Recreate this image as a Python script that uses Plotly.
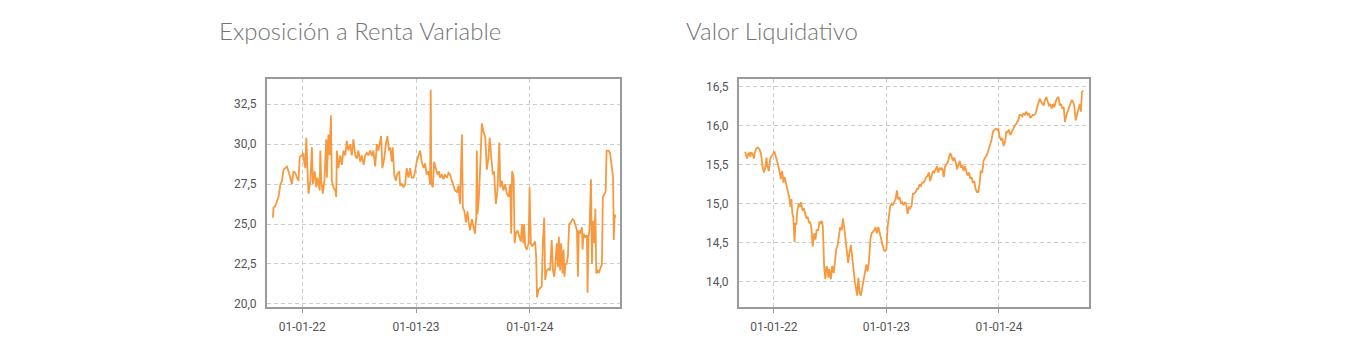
import plotly.graph_objects as go

# ---------------- data: Exposición a Renta Variable ----------------
exp_dates = [
    "2021-09-29", "2021-10-01", "2021-10-06", "2021-10-12", "2021-10-17", "2021-10-23", "2021-10-28",
    "2021-11-02", "2021-11-07", "2021-11-13", "2021-11-18", "2021-11-23", "2021-11-29", "2021-12-04",
    "2021-12-10", "2021-12-15", "2021-12-20", "2021-12-24", "2021-12-31", "2022-01-05", "2022-01-07",
    "2022-01-11", "2022-01-14", "2022-01-18", "2022-01-21", "2022-01-27", "2022-02-01", "2022-02-04",
    "2022-02-10", "2022-02-15", "2022-02-19", "2022-02-26", "2022-02-28", "2022-03-03", "2022-03-08",
    "2022-03-13", "2022-03-19", "2022-03-21", "2022-03-26", "2022-03-30", "2022-04-03", "2022-04-06",
    "2022-04-11", "2022-04-17", "2022-04-20", "2022-04-22", "2022-04-27", "2022-05-03", "2022-05-08",
    "2022-05-13", "2022-05-19", "2022-05-24", "2022-05-29", "2022-06-04", "2022-06-09", "2022-06-14",
    "2022-06-20", "2022-06-25", "2022-06-30", "2022-07-06", "2022-07-11", "2022-07-17", "2022-07-22",
    "2022-07-27", "2022-08-01", "2022-08-07", "2022-08-12", "2022-08-17", "2022-08-23", "2022-08-28",
    "2022-09-02", "2022-09-08", "2022-09-11", "2022-09-15", "2022-09-21", "2022-09-26", "2022-10-01",
    "2022-10-06", "2022-10-10", "2022-10-15", "2022-10-18", "2022-10-23", "2022-10-28", "2022-11-01",
    "2022-11-08", "2022-11-11", "2022-11-16", "2022-11-22", "2022-11-27", "2022-12-02", "2022-12-08",
    "2022-12-13", "2022-12-18", "2022-12-24", "2022-12-29", "2023-01-03", "2023-01-09", "2023-01-14",
    "2023-01-19", "2023-01-25", "2023-01-30", "2023-02-04", "2023-02-10", "2023-02-15", "2023-02-17",
    "2023-02-19", "2023-02-24", "2023-02-28", "2023-03-05", "2023-03-11", "2023-03-16", "2023-03-19",
    "2023-03-25", "2023-03-30", "2023-04-03", "2023-04-10", "2023-04-15", "2023-04-20", "2023-04-26",
    "2023-05-01", "2023-05-06", "2023-05-12", "2023-05-17", "2023-05-22", "2023-05-28", "2023-05-31",
    "2023-06-05", "2023-06-10", "2023-06-15", "2023-06-18", "2023-06-23", "2023-06-29", "2023-07-04",
    "2023-07-09", "2023-07-13", "2023-07-15", "2023-07-17", "2023-07-21", "2023-07-26", "2023-07-31",
    "2023-08-05", "2023-08-11", "2023-08-16", "2023-08-21", "2023-08-25", "2023-08-29", "2023-09-04",
    "2023-09-08", "2023-09-14", "2023-09-19", "2023-09-25", "2023-09-28", "2023-10-03", "2023-10-08",
    "2023-10-14", "2023-10-19", "2023-10-25", "2023-10-30", "2023-11-02", "2023-11-05", "2023-11-10",
    "2023-11-13", "2023-11-17", "2023-11-22", "2023-11-28", "2023-12-03", "2023-12-07", "2023-12-11",
    "2023-12-14", "2023-12-17", "2023-12-22", "2023-12-28", "2023-12-31", "2024-01-04", "2024-01-08",
    "2024-01-13", "2024-01-18", "2024-01-21", "2024-01-24", "2024-01-29", "2024-02-03", "2024-02-08",
    "2024-02-12", "2024-02-16", "2024-02-19", "2024-02-24", "2024-03-01", "2024-03-06", "2024-03-11",
    "2024-03-15", "2024-03-19", "2024-03-22", "2024-03-27", "2024-03-31", "2024-04-03", "2024-04-07",
    "2024-04-10", "2024-04-15", "2024-04-18", "2024-04-21", "2024-04-24", "2024-04-28", "2024-05-02",
    "2024-05-06", "2024-05-11", "2024-05-17", "2024-05-22", "2024-05-27", "2024-05-31", "2024-06-03",
    "2024-06-06", "2024-06-10", "2024-06-16", "2024-06-18", "2024-06-21", "2024-06-26", "2024-07-02",
    "2024-07-04", "2024-07-07", "2024-07-10", "2024-07-15", "2024-07-18", "2024-07-21", "2024-07-25",
    "2024-07-29", "2024-08-01", "2024-08-05", "2024-08-10", "2024-08-16", "2024-08-19", "2024-08-22",
    "2024-08-26", "2024-08-31", "2024-09-03", "2024-09-09", "2024-09-14", "2024-09-18", "2024-09-21",
    "2024-09-24", "2024-09-26", "2024-09-29", "2024-10-02",
]
exp_values = [
    25.4, 26.05, 26.1, 26.4, 26.7, 27.5, 27.7,
    28.4, 28.5, 28.6, 28.3, 27.9, 27.5, 28.3,
    28.2, 27.9, 27.7, 29.2, 29.3, 29.45, 28.9,
    28.5, 30.4, 28.3, 26.9, 27.7, 29.8, 27.5,
    28.3, 27.3, 27.9, 27.1, 29.6, 27.7, 26.9,
    27.7, 30.3, 27.9, 30.6, 29.3, 31.8, 27.7,
    27.3, 27.1, 26.7, 29.6, 28.5, 29.3, 28.7,
    29.6, 29.3, 30.2, 29.6, 30.0, 29.3, 30.3,
    29.3, 29.1, 29.6, 28.9, 29.3, 28.7, 29.3,
    29.45, 29.3, 29.6, 29.25, 29.6, 28.6, 30.0,
    29.6, 30.2, 30.5, 28.5, 29.1, 30.0, 30.5,
    29.6, 29.8, 28.9, 29.8, 28.1, 27.7, 28.1,
    28.3, 27.4, 27.5, 27.3, 27.5, 28.5, 27.9,
    28.5, 27.9, 27.9, 28.3, 28.9, 29.3, 29.6,
    28.9, 28.5, 28.8, 28.1, 28.3, 27.5, 33.4,
    27.5, 27.3, 28.9, 28.5, 28.1, 28.3, 27.9,
    28.1, 27.8, 28.1, 27.9, 28.2, 28.1, 27.7,
    27.4, 27.1, 27.0, 27.4, 26.25, 30.6, 26.05,
    25.8, 25.1, 25.8, 25.2, 24.6, 25.3, 24.8,
    24.4, 25.4, 29.6, 25.6, 26.5, 28.7, 31.3,
    30.8, 30.4, 28.4, 29.1, 30.4, 29.3, 28.1,
    28.3, 26.25, 27.1, 30.1, 27.3, 27.7, 27.1,
    27.5, 26.9, 26.7, 27.5, 24.4, 28.3, 27.9,
    23.8, 24.4, 24.6, 24.2, 23.9, 25.0, 23.8,
    25.0, 23.6, 23.4, 23.8, 27.3, 23.8, 23.6,
    23.8, 23.9, 23.0, 20.4, 20.9, 21.0, 21.1,
    24.0, 25.4, 21.5, 22.1, 22.2, 22.1, 24.0,
    22.1, 21.7, 22.3, 23.8, 22.3, 24.2, 22.1,
    23.8, 21.9, 23.4, 21.7, 22.5, 22.5, 23.0,
    25.0, 25.1, 25.3, 25.2, 24.8, 24.6, 21.7,
    24.6, 24.4, 24.8, 23.4, 24.4, 24.2, 24.3,
    20.7, 24.2, 24.6, 27.8, 22.5, 25.2, 23.8,
    25.95, 21.9, 22.1, 22.0, 22.3, 22.5, 26.7,
    26.8, 27.0, 29.6, 29.6, 29.45, 28.9, 28.5,
    27.9, 24.0, 25.6, 25.4,
]

# ---------------- data: Valor Liquidativo ----------------
vl_dates = [
    "2021-09-30", "2021-10-03", "2021-10-06", "2021-10-10", "2021-10-14", "2021-10-17", "2021-10-20",
    "2021-10-25", "2021-10-28", "2021-10-31", "2021-11-05", "2021-11-10", "2021-11-15", "2021-11-20",
    "2021-11-23", "2021-11-26", "2021-11-30", "2021-12-05", "2021-12-08", "2021-12-11", "2021-12-16",
    "2021-12-20", "2021-12-24", "2021-12-29", "2022-01-03", "2022-01-06", "2022-01-11", "2022-01-15",
    "2022-01-19", "2022-01-24", "2022-01-28", "2022-02-01", "2022-02-05", "2022-02-10", "2022-02-14",
    "2022-02-17", "2022-02-20", "2022-02-24", "2022-02-27", "2022-03-02", "2022-03-05", "2022-03-09",
    "2022-03-12", "2022-03-15", "2022-03-18", "2022-03-23", "2022-03-27", "2022-03-30", "2022-04-04",
    "2022-04-08", "2022-04-13", "2022-04-17", "2022-04-21", "2022-04-26", "2022-04-29", "2022-05-03",
    "2022-05-07", "2022-05-12", "2022-05-16", "2022-05-20", "2022-05-25", "2022-05-29", "2022-06-02",
    "2022-06-06", "2022-06-09", "2022-06-13", "2022-06-17", "2022-06-21", "2022-06-24", "2022-06-27",
    "2022-06-30", "2022-07-05", "2022-07-09", "2022-07-14", "2022-07-18", "2022-07-22", "2022-07-27",
    "2022-07-31", "2022-08-04", "2022-08-09", "2022-08-13", "2022-08-17", "2022-08-22", "2022-08-26",
    "2022-08-30", "2022-09-03", "2022-09-08", "2022-09-12", "2022-09-16", "2022-09-21", "2022-09-25",
    "2022-09-28", "2022-10-02", "2022-10-06", "2022-10-10", "2022-10-15", "2022-10-19", "2022-10-23",
    "2022-10-28", "2022-11-01", "2022-11-05", "2022-11-10", "2022-11-14", "2022-11-18", "2022-11-23",
    "2022-11-27", "2022-12-01", "2022-12-06", "2022-12-10", "2022-12-14", "2022-12-19", "2022-12-23",
    "2022-12-27", "2023-01-01", "2023-01-05", "2023-01-09", "2023-01-13", "2023-01-18", "2023-01-22",
    "2023-01-26", "2023-01-31", "2023-02-04", "2023-02-08", "2023-02-13", "2023-02-17", "2023-02-21",
    "2023-02-26", "2023-03-02", "2023-03-06", "2023-03-11", "2023-03-15", "2023-03-19", "2023-03-24",
    "2023-03-28", "2023-04-01", "2023-04-06", "2023-04-10", "2023-04-14", "2023-04-19", "2023-04-23",
    "2023-04-27", "2023-05-02", "2023-05-06", "2023-05-10", "2023-05-15", "2023-05-19", "2023-05-23",
    "2023-05-28", "2023-06-01", "2023-06-05", "2023-06-10", "2023-06-14", "2023-06-18", "2023-06-23",
    "2023-06-27", "2023-07-01", "2023-07-06", "2023-07-10", "2023-07-14", "2023-07-19", "2023-07-23",
    "2023-07-27", "2023-07-31", "2023-08-05", "2023-08-09", "2023-08-14", "2023-08-18", "2023-08-22",
    "2023-08-27", "2023-08-31", "2023-09-04", "2023-09-08", "2023-09-13", "2023-09-17", "2023-09-21",
    "2023-09-26", "2023-09-30", "2023-10-04", "2023-10-09", "2023-10-13", "2023-10-17", "2023-10-22",
    "2023-10-26", "2023-10-30", "2023-11-03", "2023-11-08", "2023-11-12", "2023-11-17", "2023-11-21",
    "2023-11-25", "2023-11-30", "2023-12-04", "2023-12-08", "2023-12-13", "2023-12-17", "2023-12-21",
    "2023-12-26", "2023-12-30", "2024-01-03", "2024-01-08", "2024-01-12", "2024-01-16", "2024-01-21",
    "2024-01-25", "2024-01-29", "2024-02-02", "2024-02-07", "2024-02-11", "2024-02-15", "2024-02-20",
    "2024-02-24", "2024-02-28", "2024-03-04", "2024-03-08", "2024-03-12", "2024-03-17", "2024-03-21",
    "2024-03-25", "2024-03-30", "2024-04-03", "2024-04-07", "2024-04-12", "2024-04-16", "2024-04-20",
    "2024-04-25", "2024-04-29", "2024-05-03", "2024-05-08", "2024-05-12", "2024-05-16", "2024-05-21",
    "2024-05-25", "2024-05-29", "2024-06-03", "2024-06-07", "2024-06-11", "2024-06-16", "2024-06-20",
    "2024-06-24", "2024-06-29", "2024-07-03", "2024-07-07", "2024-07-12", "2024-07-16", "2024-07-20",
    "2024-07-25", "2024-07-29", "2024-08-02", "2024-08-07", "2024-08-11", "2024-08-15", "2024-08-20",
    "2024-08-24", "2024-08-28", "2024-09-01", "2024-09-06", "2024-09-10", "2024-09-14", "2024-09-19",
    "2024-09-23", "2024-09-26", "2024-09-30",
]
vl_values = [
    15.665, 15.63, 15.58, 15.64, 15.65, 15.60, 15.66,
    15.63, 15.58, 15.65, 15.71, 15.72, 15.70, 15.65,
    15.55, 15.46, 15.40, 15.48, 15.59, 15.48, 15.42,
    15.57, 15.61, 15.63, 15.67, 15.61, 15.55, 15.50,
    15.42, 15.32, 15.42, 15.27, 15.34, 15.25, 15.21,
    15.13, 15.08, 14.96, 15.06, 14.87, 14.83, 14.51,
    14.75, 14.73, 14.91, 15.00, 14.96, 15.02, 14.91,
    14.94, 14.85, 14.81, 14.83, 14.75, 14.77, 14.68,
    14.45, 14.62, 14.54, 14.66, 14.66, 14.77, 14.75,
    14.78, 14.70, 14.20, 14.03, 14.20, 14.16, 14.05,
    14.16, 14.03, 14.20, 14.11, 14.24, 14.41, 14.47,
    14.58, 14.70, 14.66, 14.81, 14.70, 14.54, 14.43,
    14.24, 14.37, 14.47, 14.32, 14.16, 13.99, 13.90,
    13.82, 14.05, 13.86, 13.82, 13.95, 13.99, 14.11,
    14.22, 14.13, 14.24, 14.54, 14.62, 14.64, 14.66,
    14.70, 14.62, 14.70, 14.62, 14.58, 14.45, 14.41,
    14.39, 14.41, 14.70, 14.83, 14.96, 15.00, 14.98,
    15.02, 15.06, 15.17, 15.06, 15.08, 15.00, 15.02,
    14.98, 15.02, 15.00, 14.87, 14.96, 14.94, 14.98,
    15.13, 15.13, 15.15, 15.19, 15.19, 15.25, 15.23,
    15.27, 15.27, 15.32, 15.34, 15.36, 15.40, 15.29,
    15.38, 15.42, 15.40, 15.44, 15.48, 15.40, 15.46,
    15.44, 15.46, 15.34, 15.48, 15.50, 15.53, 15.59,
    15.65, 15.61, 15.55, 15.59, 15.53, 15.44, 15.50,
    15.55, 15.46, 15.50, 15.42, 15.48, 15.42, 15.36,
    15.40, 15.32, 15.34, 15.27, 15.29, 15.19, 15.15,
    15.15, 15.25, 15.42, 15.40, 15.55, 15.59, 15.61,
    15.65, 15.72, 15.78, 15.82, 15.93, 15.95, 15.96,
    15.95, 15.96, 15.86, 15.82, 15.84, 15.74, 15.80,
    15.93, 15.91, 15.95, 15.88, 15.93, 15.95, 15.99,
    16.01, 16.03, 16.07, 16.14, 16.14, 16.12, 16.16,
    16.14, 16.18, 16.14, 16.16, 16.10, 16.12, 16.14,
    16.14, 16.16, 16.22, 16.28, 16.35, 16.31, 16.28,
    16.26, 16.33, 16.37, 16.31, 16.26, 16.28, 16.22,
    16.28, 16.24, 16.31, 16.35, 16.37, 16.26, 16.28,
    16.22, 16.24, 16.05, 16.14, 16.18, 16.24, 16.28,
    16.33, 16.31, 16.26, 16.07, 16.14, 16.18, 16.28,
    16.18, 16.43, 16.45,
]

# ---------------- axes setup ----------------
x_tickvals = ["2022-01-01", "2023-01-01", "2024-01-01"]
x_ticktext = ["01-01-22", "01-01-23", "01-01-24"]
exp_yticks = [20.0, 22.5, 25.0, 27.5, 30.0, 32.5]
vl_yticks = [14.0, 14.5, 15.0, 15.5, 16.0, 16.5]

titles = ["Exposición a Renta Variable", "Valor Liquidativo"]

LINE = "#F7993F"
GRID = "#cccccc"
FRAME = "#9a9a9a"
TICKFONT = dict(family="Roboto, DejaVu Sans", size=12, color="#555555")
TITLEFONT = dict(family="Lato, Open Sans", size=24, color="#757575", weight=300)

fig = go.Figure()
fig.add_trace(go.Scatter(x=exp_dates, y=exp_values, mode="lines",
                         line=dict(color=LINE, width=1.8), xaxis="x", yaxis="y",
                         hoverinfo="x+y", showlegend=False))
fig.add_trace(go.Scatter(x=vl_dates, y=vl_values, mode="lines",
                         line=dict(color=LINE, width=1.8), xaxis="x2", yaxis="y2",
                         hoverinfo="x+y", showlegend=False))

# offset of the figure inside the page (body margin)
OFF_X = 8
OFF_Y = 5
W, H = 1332, 340


def px(v):
    return (v - OFF_X) / W


def py(v):
    return 1 - (v - OFF_Y) / H


ydom = [py(307.5), py(77.3)]

common_x = dict(type="date", tickvals=x_tickvals, ticktext=x_ticktext,
                showgrid=True, gridcolor=GRID, griddash="4px,3px", gridwidth=1,
                showline=True, linecolor=FRAME, linewidth=2, mirror=True,
                ticks="outside", ticklen=4, tickcolor=FRAME, tickfont=TICKFONT,
                ticklabelstandoff=4, zeroline=False, fixedrange=True)
common_y = dict(showgrid=True, gridcolor=GRID, griddash="4px,3px", gridwidth=1,
                showline=True, linecolor=FRAME, linewidth=2, mirror=True,
                ticks="", tickfont=TICKFONT, tickformat=".1f", zeroline=False,
                ticklabelstandoff=6, fixedrange=True)

fig.update_layout(
    width=W, height=H,
    margin=dict(l=0, r=0, t=0, b=0),
    paper_bgcolor="white", plot_bgcolor="white",
    separators=", ",
    xaxis=dict(common_x, domain=[px(267), px(620)], anchor="y",
               range=["2021-09-10", "2024-10-16"]),
    yaxis=dict(common_y, domain=ydom, anchor="x", range=[19.81, 34.05],
               tickvals=exp_yticks),
    xaxis2=dict(common_x, domain=[px(739), px(1089)], anchor="y2",
                range=["2021-09-10", "2024-10-19"]),
    yaxis2=dict(common_y, domain=ydom, anchor="x2", range=[13.675, 16.594],
                tickvals=vl_yticks),
    annotations=[
        dict(text=titles[0], x=px(217), y=py(28), xref="paper", yref="paper",
             xanchor="left", yanchor="middle", showarrow=False, font=TITLEFONT),
        dict(text=titles[1], x=px(684), y=py(28), xref="paper", yref="paper",
             xanchor="left", yanchor="middle", showarrow=False, font=TITLEFONT),
    ],
)

fig.write_html("out.html")
